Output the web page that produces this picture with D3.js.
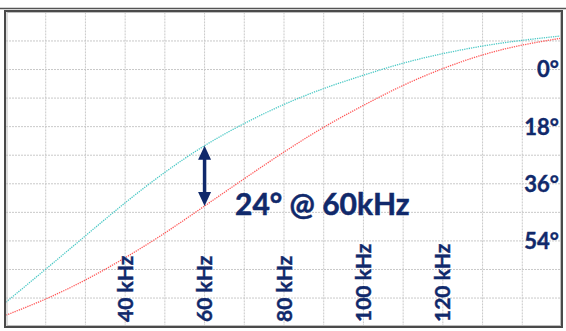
<!DOCTYPE html>
<html>
<head>
<meta charset="utf-8">
<script src="https://cdn.jsdelivr.net/npm/d3@7"></script>
<style>
  body { margin: 0; background: #fff; }
  svg { display: block; }
</style>
</head>
<body>
<div id="chart"></div>
<script>
// frequency in kHz, phase in degrees (positive = lag, drawn downward)
const freqs = [10, 20, 30, 40, 50, 60, 70, 80, 90, 100, 110, 120, 130, 140, 150];
const cyanPhase = [73.3, 62.9, 52.4, 42.0, 32.4, 24.0, 17.0, 11.0, 6.0, 1.8, -2.0, -5.0, -7.4, -9.2, -10.6];
const redPhase = [77.4, 72.3, 66.3, 59.3, 51.5, 43.0, 34.4, 26.0, 18.2, 11.3, 5.0, -0.3, -4.6, -7.7, -9.9];
const xTickLabels = [40, 60, 80, 100, 120];
const yTickLabels = [0, 18, 36, 54];
const annoFreq = 60;
const annoText = "24° @ 60kHz";

const W = 566, H = 331;
const navy = "#10296b";

const svg = d3.select("#chart").append("svg")
  .attr("width", W)
  .attr("height", H)
  .style("font-family", "Lato, 'Open Sans', sans-serif");

const x = d3.scaleLinear().domain([10, 150]).range([6, 562]);
const y = d3.scaleLinear().domain([-18, 81]).range([12.4, 326.6]);

// grid
svg.append("g").selectAll("line")
  .data(d3.range(20, 150, 10))
  .enter().append("line")
  .attr("x1", d => x(d)).attr("x2", d => x(d))
  .attr("y1", y(-18)).attr("y2", y(81))
  .attr("stroke", "#c9c9c9")
  .attr("stroke-dasharray", "2,1");

svg.append("g").selectAll("line")
  .data(d3.range(-9, 81, 9))
  .enter().append("line")
  .attr("y1", d => y(d)).attr("y2", d => y(d))
  .attr("x1", x(10)).attr("x2", x(150))
  .attr("stroke", "#c9c9c9")
  .attr("stroke-dasharray", "2,1");

// curves
const line = d3.line()
  .x((d, i) => x(freqs[i]))
  .y(d => y(d))
  .curve(d3.curveNatural);

svg.append("path")
  .datum(cyanPhase)
  .attr("d", line)
  .attr("fill", "none")
  .attr("stroke", "#4cc9c6")
  .attr("stroke-width", 1.3)
  .attr("stroke-dasharray", "1.3,1");

svg.append("path")
  .datum(redPhase)
  .attr("d", line)
  .attr("fill", "none")
  .attr("stroke", "#ff5a5a")
  .attr("stroke-width", 1.3)
  .attr("stroke-dasharray", "1.3,1");

// frame
svg.append("line")
  .attr("x1", 0).attr("x2", W)
  .attr("y1", 8.5).attr("y2", 8.5)
  .attr("stroke", "#555").attr("stroke-width", 1.5);
svg.append("rect")
  .attr("x", 5).attr("y", 11)
  .attr("width", 557).attr("height", 316)
  .attr("fill", "none")
  .attr("stroke", "#4a4a4a").attr("stroke-width", 2);
svg.append("rect")
  .attr("x", 7).attr("y", 12.5)
  .attr("width", 553.5).attr("height", 313)
  .attr("fill", "none")
  .attr("stroke", "#bdbdbd").attr("stroke-width", 1);

// x labels (rotated)
svg.append("g").selectAll("text")
  .data(xTickLabels)
  .enter().append("text")
  .attr("transform", d => "translate(" + x(d) + ",322) rotate(-90)")
  .attr("dy", "0.36em")
  .attr("text-anchor", "start")
  .attr("font-size", 21)
  .attr("font-weight", "bold")
  .attr("fill", navy)
  .attr("stroke", navy).attr("stroke-width", 0.4)
  .text(d => d + " kHz");

// y labels
svg.append("g").selectAll("text")
  .data(yTickLabels)
  .enter().append("text")
  .attr("x", 559)
  .attr("y", d => y(d))
  .attr("dy", "0.36em")
  .attr("text-anchor", "end")
  .attr("font-size", 22)
  .attr("font-weight", "bold")
  .attr("fill", navy)
  .attr("stroke", navy).attr("stroke-width", 0.4)
  .text(d => d + "°");

// double arrow between the two curves
const ai = freqs.indexOf(annoFreq);
const ax = x(annoFreq);
const yTop = y(cyanPhase[ai]);
const yBot = y(redPhase[ai]);
const headH = 14, headW = 6.5;

svg.append("line")
  .attr("x1", ax).attr("x2", ax)
  .attr("y1", yTop + headH - 1).attr("y2", yBot - headH + 1)
  .attr("stroke", navy).attr("stroke-width", 3.5);
svg.append("path")
  .attr("d", d3.line()([[ax, yTop], [ax - headW, yTop + headH], [ax + headW, yTop + headH]]) + "Z")
  .attr("fill", navy);
svg.append("path")
  .attr("d", d3.line()([[ax, yBot], [ax - headW, yBot - headH], [ax + headW, yBot - headH]]) + "Z")
  .attr("fill", navy);

svg.append("text")
  .attr("x", 235)
  .attr("y", 215)
  .attr("font-size", 30)
  .attr("font-weight", "bold")
  .attr("fill", navy)
  .attr("stroke", navy).attr("stroke-width", 0.5)
  .text(annoText);
</script>
</body>
</html>
